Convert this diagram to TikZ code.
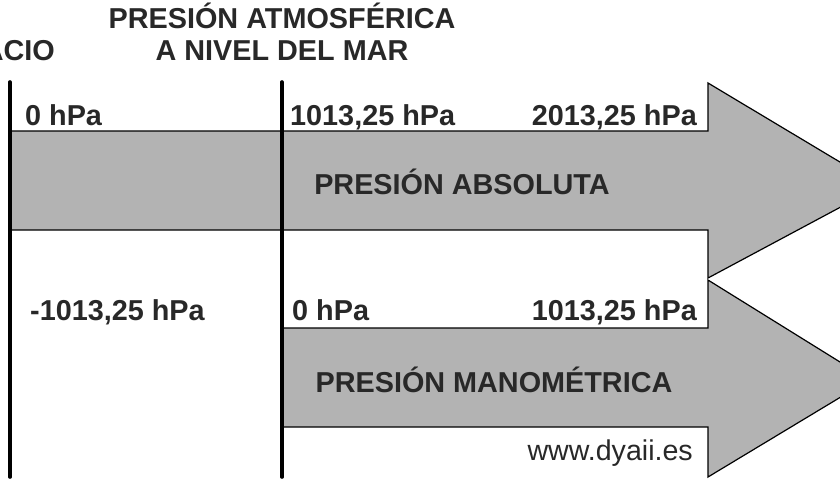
\documentclass[tikz,border=0pt]{standalone}
\usepackage{fontspec}
\setmainfont{Liberation Sans}
\definecolor{arrowgray}{HTML}{B3B3B3}
\definecolor{inkgray}{HTML}{282828}

\begin{document}
\begin{tikzpicture}[x=1pt,y=-1pt,
  flow/.style={fill=arrowgray,draw=black,line width=1.2pt,line join=miter},
  bar/.style={line width=3.6pt,line cap=round},
  heading/.style={font=\fontsize{28.8}{32}\selectfont\bfseries,text=inkgray,inner sep=0pt},
  web/.style={font=\fontsize{28.6}{32}\selectfont,text=inkgray,inner sep=0pt}]
\useasboundingbox (0,0) rectangle (840,480);

% presion absoluta
\begin{scope}
\draw[flow] (10,131) -- (708,131) -- (708,83) -- (880,186) -- (708,278) -- (708,230) -- (10,230) -- cycle;
\node[heading,anchor=base] (absname) at (462,194) {PRESIÓN ABSOLUTA};
\node[heading,anchor=base west] (abszero) at (25,125) {0 hPa};
\node[heading,anchor=base west] (absatm) at (290,125) {1013,25 hPa};
\node[heading,anchor=base east] (absmax) at (697,125) {2013,25 hPa};
\end{scope}

% presion manometrica
\begin{scope}
\draw[flow] (282,328) -- (708,328) -- (708,280) -- (869,380) -- (708,477) -- (708,427) -- (282,427) -- cycle;
\node[heading,anchor=base] (manname) at (494,392) {PRESIÓN MANOMÉTRICA};
\node[heading,anchor=base west] (manmin) at (30,320) {-1013,25 hPa};
\node[heading,anchor=base west] (manzero) at (292,320) {0 hPa};
\node[heading,anchor=base east] (manmax) at (697,320) {1013,25 hPa};
\node[web,anchor=base east] (site) at (693,460) {www.dyaii.es};
\end{scope}

% vacio y presion atmosferica
\coordinate (vactop) at (10,82);
\coordinate (vacbot) at (10,477);
\coordinate (atmtop) at (282,82);
\coordinate (atmbot) at (282,477);
\draw[bar] (vactop) -- (vacbot);
\draw[bar] (atmtop) -- (atmbot);
\node[heading,anchor=base east] (vacio) at (55,60) {ACIO};
\node[heading,anchor=base] (atmone) at (282,28) {PRESIÓN ATMOSFÉRICA};
\node[heading,anchor=base] (atmtwo) at (282,60) {A NIVEL DEL MAR};

\end{tikzpicture}
\end{document}
